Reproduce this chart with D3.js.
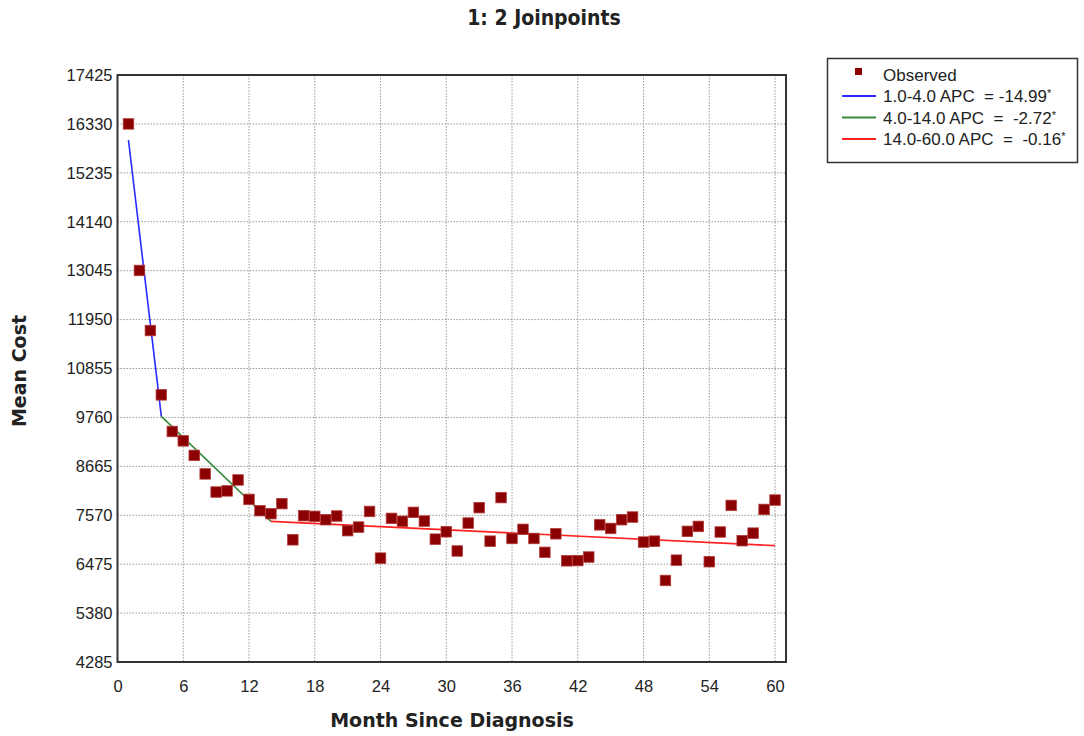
<!DOCTYPE html>
<html>
<head>
<meta charset="utf-8">
<script src="https://cdn.jsdelivr.net/npm/d3@7"></script>
<style>
  body { margin: 0; background: #fff; }
  svg { display: block; }
  text { font-family: "Liberation Sans", Arial, sans-serif; fill: #222; }
</style>
</head>
<body>
<svg id="chart" width="1084" height="736"></svg>
<script>
// observed mean cost, month 1..60
const months = d3.range(1, 61)
const observed = [
  16330, 13050, 11705, 10265, 9445, 9235, 8910, 8495, 8090, 8115,
  8360, 7925, 7672, 7605, 7830, 7020, 7560, 7545, 7470, 7553,
  7225, 7305, 7655, 6610, 7500, 7435, 7635, 7440, 7035, 7200,
  6770, 7395, 7740, 6990, 7965, 7050, 7255, 7050, 6740, 7155,
  6550, 6555, 6635, 7355, 7275, 7470, 7530, 6970, 6990, 6110,
  6565, 7210, 7320, 6530, 7195, 7790, 7000, 7170, 7700, 7910
]
// joinpoint segments
const segments = [
  { label: '1.0-4.0 APC  = -14.99', color: '#2a2aff', x: [1, 4], y: [15970, 9785] },
  { label: '4.0-14.0 APC  =  -2.72', color: '#3a8a3a', x: [4, 14], y: [9785, 7433] },
  { label: '14.0-60.0 APC  =  -0.16', color: '#ff2020', x: [14, 60], y: [7433, 6890] }
]
const yTicks = [4285, 5380, 6475, 7570, 8665, 9760, 10855, 11950, 13045, 14140, 15235, 16330, 17425]
const xTicks = [0, 6, 12, 18, 24, 30, 36, 42, 48, 54, 60]

const svg = d3.select('#chart')
const pLeft = 117.5, pRight = 786, pTop = 75, pBottom = 662

const x = d3.scaleLinear().domain([0, 61]).range([pLeft, pRight])
const y = d3.scaleLinear().domain([4285, 17425]).range([pBottom, pTop])

// title
svg.append('text')
  .attr('x', 544).attr('y', 25)
  .attr('text-anchor', 'middle')
  .style('font-family', '"DejaVu Sans Condensed", "DejaVu Sans", sans-serif')
  .style('font-weight', 'bold').style('font-size', '21px')
  .text('1: 2 Joinpoints')

// grid
const grid = svg.append('g')
grid.selectAll('.gx').data(xTicks.slice(1)).join('line')
  .attr('x1', d => x(d)).attr('x2', d => x(d))
  .attr('y1', pTop).attr('y2', pBottom)
  .attr('stroke', '#999').attr('stroke-width', 1).attr('stroke-dasharray', '1.5,1.5')
grid.selectAll('.gy').data(yTicks.slice(1, -1)).join('line')
  .attr('x1', pLeft).attr('x2', pRight)
  .attr('y1', d => y(d)).attr('y2', d => y(d))
  .attr('stroke', '#999').attr('stroke-width', 1).attr('stroke-dasharray', '1.5,1.5')

// axes
const xAxis = svg.append('g')
  .attr('transform', `translate(0,${pBottom})`)
  .call(d3.axisBottom(x).tickValues(xTicks).tickSize(0).tickPadding(18))
const yAxis = svg.append('g')
  .attr('transform', `translate(${pLeft},0)`)
  .call(d3.axisLeft(y).tickValues(yTicks).tickSize(0).tickPadding(5).tickFormat(d3.format('d')))
xAxis.select('.domain').remove()
yAxis.select('.domain').remove()
svg.selectAll('.tick text').style('font-size', '16.5px').style('fill', '#222')
  .style('font-family', '"Liberation Sans", Arial, sans-serif')

// frame
svg.append('rect')
  .attr('x', pLeft).attr('y', pTop)
  .attr('width', pRight - pLeft).attr('height', pBottom - pTop)
  .attr('fill', 'none').attr('stroke', '#333').attr('stroke-width', 2)

// axis labels
svg.append('text')
  .attr('x', 452).attr('y', 727)
  .attr('text-anchor', 'middle')
  .style('font-family', '"DejaVu Sans", Verdana, sans-serif')
  .style('font-weight', 'bold').style('font-size', '19px')
  .text('Month Since Diagnosis')
svg.append('text')
  .attr('transform', 'translate(26,371) rotate(-90)')
  .attr('text-anchor', 'middle')
  .style('font-family', '"DejaVu Sans", Verdana, sans-serif')
  .style('font-weight', 'bold').style('font-size', '19px')
  .text('Mean Cost')

// fitted segments
const line = d3.line().x(d => x(d[0])).y(d => y(d[1]))
svg.selectAll('.seg').data(segments).join('path')
  .attr('d', s => line(d3.zip(s.x, s.y)))
  .attr('fill', 'none')
  .attr('stroke', s => s.color)
  .attr('stroke-width', 1.6)

// observed points
const sz = 10.5
svg.selectAll('.pt').data(months).join('rect')
  .attr('x', (d, i) => x(d) - sz / 2)
  .attr('y', (d, i) => y(observed[i]) - sz / 2)
  .attr('width', sz).attr('height', sz)
  .attr('fill', '#8b0000')
  .attr('stroke', '#b33a3a').attr('stroke-width', 0.8)

// legend
const lg = svg.append('g')
lg.append('rect')
  .attr('x', 827.5).attr('y', 58.5).attr('width', 250).attr('height', 104)
  .attr('fill', '#fff').attr('stroke', '#333').attr('stroke-width', 1.5)
lg.append('rect')
  .attr('x', 855).attr('y', 68).attr('width', 7).attr('height', 7)
  .attr('fill', '#8b0000')
lg.append('text')
  .attr('x', 883).attr('y', 81)
  .style('font-size', '17px')
  .text('Observed')
segments.forEach((s, i) => {
  const yy = 96 + i * 21.5
  lg.append('line')
    .attr('x1', 842).attr('x2', 876)
    .attr('y1', yy).attr('y2', yy)
    .attr('stroke', s.color).attr('stroke-width', 2)
  const t = lg.append('text')
    .attr('x', 883).attr('y', yy + 6)
    .style('font-size', '17px')
    .attr('xml:space', 'preserve')
  t.append('tspan').text(s.label)
  t.append('tspan').attr('dy', -5).style('font-size', '11px').text('*')
})
</script>
</body>
</html>
